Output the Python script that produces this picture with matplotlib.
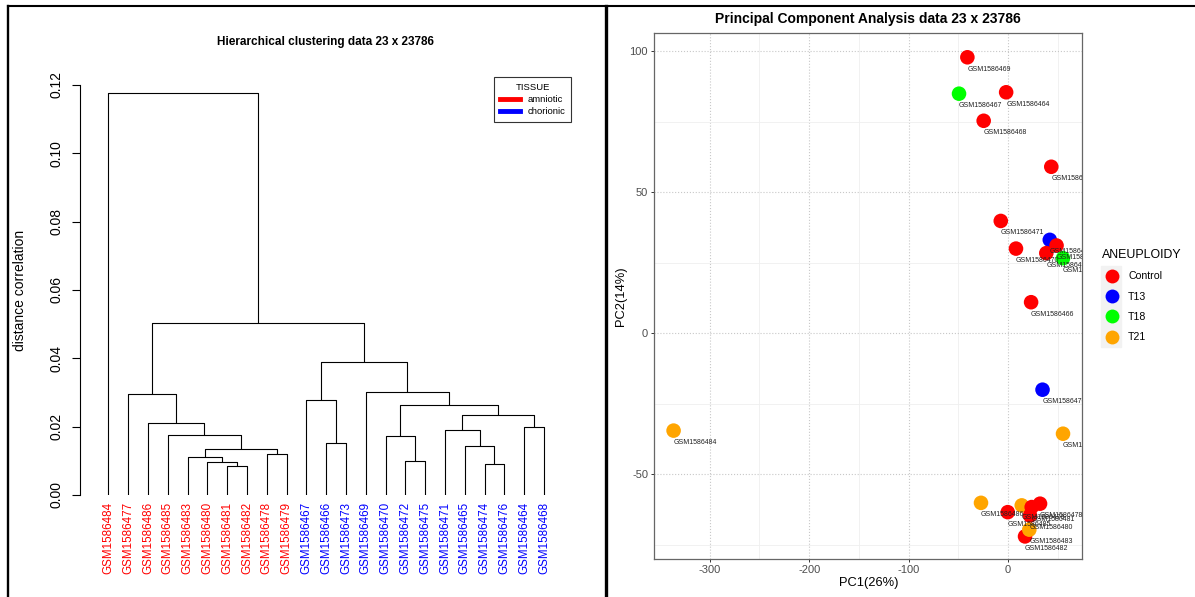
import matplotlib.pyplot as plt
from matplotlib.lines import Line2D
from matplotlib.patches import Rectangle

plt.rcParams['font.family'] = ['Liberation Sans', 'DejaVu Sans']
plt.rcParams['axes.unicode_minus'] = False

W, H = 1195, 597

# ---- dendrogram data (leaf order as drawn) ----
leaf_labels = ['GSM1586484', 'GSM1586477', 'GSM1586486', 'GSM1586485', 'GSM1586483',
               'GSM1586480', 'GSM1586481', 'GSM1586482', 'GSM1586478', 'GSM1586479',
               'GSM1586467', 'GSM1586466', 'GSM1586473', 'GSM1586469', 'GSM1586470',
               'GSM1586472', 'GSM1586475', 'GSM1586471', 'GSM1586465', 'GSM1586474',
               'GSM1586476', 'GSM1586464', 'GSM1586468']
leaf_tissue = ['amniotic'] * 10 + ['chorionic'] * 13
# merges: (left node, right node, height); new node ids start at 23
merges = [(6, 7, 0.0086), (19, 20, 0.0090), (5, 23, 0.0097), (15, 16, 0.0100),
          (4, 25, 0.0110), (8, 9, 0.0121), (27, 28, 0.0136), (18, 24, 0.0142),
          (11, 12, 0.0151), (14, 26, 0.0172), (3, 29, 0.0175), (17, 30, 0.0191),
          (21, 22, 0.0200), (2, 33, 0.0212), (34, 35, 0.0235), (32, 37, 0.0262),
          (10, 31, 0.0279), (1, 36, 0.0295), (13, 38, 0.0300), (39, 41, 0.0388),
          (40, 42, 0.0503), (0, 43, 0.1178)]
tissue_colors = {'amniotic': '#FF0000', 'chorionic': '#0000FF'}

# ---- PCA data ----
pca_samples = ['GSM1586464', 'GSM1586465', 'GSM1586466', 'GSM1586467', 'GSM1586468',
               'GSM1586469', 'GSM1586470', 'GSM1586471', 'GSM1586472', 'GSM1586473',
               'GSM1586474', 'GSM1586475', 'GSM1586476', 'GSM1586477', 'GSM1586478',
               'GSM1586479', 'GSM1586480', 'GSM1586481', 'GSM1586482', 'GSM1586483',
               'GSM1586484', 'GSM1586485', 'GSM1586486']
pc1 = [-1.9, 43.5, 23.2, -49.3, -24.5, -40.9, 8.0, -7.3, 42.0, 48.8, 38.5, 55.3,
       34.7, 55.3, 32.2, 13.8, 22.1, 23.8, 17.1, 21.4, -336.4, -0.3, -27.2]
pc2 = [85.4, 59.0, 11.0, 84.9, 75.3, 97.8, 30.0, 39.8, 33.1, 31.1, 28.4, 26.6,
       -20.0, -35.6, -60.4, -61.0, -64.6, -61.6, -72.0, -69.6, -34.5, -63.4, -60.1]
aneuploidy = ['Control', 'Control', 'Control', 'T18', 'Control', 'Control', 'Control',
              'Control', 'T13', 'Control', 'Control', 'T18', 'T13', 'T21', 'Control',
              'T21', 'Control', 'Control', 'Control', 'T21', 'T21', 'Control', 'T21']
groups = ['Control', 'T13', 'T18', 'T21']
group_colors = {'Control': '#FF0000', 'T13': '#0000FF', 'T18': '#00FF00', 'T21': '#FFA500'}


def box(l, t, r, b):
    return [l / W, 1 - b / H, (r - l) / W, (b - t) / H]


fig = plt.figure(figsize=(W / 100, H / 100), dpi=100)

# ---------------- left: dendrogram ----------------
ax1 = fig.add_axes(box(80.4, 77, 575, 495))
n = len(leaf_labels)
xpos = {i: float(i) for i in range(n)}
hpos = {i: 0.0 for i in range(n)}
for k, (a, b, h) in enumerate(merges):
    ax1.plot([xpos[a], xpos[a], xpos[b], xpos[b]], [hpos[a], h, h, hpos[b]],
             color='black', lw=0.8, solid_capstyle='butt')
    xpos[n + k] = (xpos[a] + xpos[b]) / 2
    hpos[n + k] = h

for i, lab in enumerate(leaf_labels):
    ax1.text(i, -0.002, lab, rotation=90, ha='center', va='top', fontsize=8.4,
             color=tissue_colors[leaf_tissue[i]], clip_on=False)

ax1.set_xlim(-1.41, 23.57)
ax1.set_ylim(0, 0.12234)
for s in ['top', 'right', 'bottom']:
    ax1.spines[s].set_visible(False)
ax1.spines['left'].set_bounds(0, 0.12)
ax1.spines['left'].set_linewidth(0.8)
ax1.set_xticks([])
yt = [0.0, 0.02, 0.04, 0.06, 0.08, 0.10, 0.12]
ax1.set_yticks(yt)
ax1.set_yticklabels([f'{v:.2f}' for v in yt], rotation=90, va='center', fontsize=10)
ax1.tick_params(axis='y', length=5.5, width=0.8, pad=7)
fig.text(20 / W, 1 - 290 / H, 'distance correlation', rotation=90, ha='center',
         va='center', fontsize=10)
fig.text(325 / W, 1 - 42 / H, 'Hierarchical clustering data 23 x 23786', ha='center',
         va='center', fontsize=8.5, fontweight='bold')

t_handles = [Line2D([], [], color=tissue_colors[t], lw=3.5, label=t)
             for t in ['amniotic', 'chorionic']]
leg1 = ax1.legend(handles=t_handles, title='TISSUE', fontsize=6.8, title_fontsize=6.8,
                  loc='upper right', bbox_to_anchor=(571.4 / W, 1 - 77 / H),
                  bbox_transform=fig.transFigure, fancybox=False, edgecolor='#333333',
                  framealpha=1, borderpad=0.6, labelspacing=0.34, handlelength=2.2,
                  handletextpad=0.78, borderaxespad=0)
leg1.get_frame().set_linewidth(0.8)

# ---------------- right: PCA ----------------
ax2 = fig.add_axes(box(654.3, 33.3, 1082.4, 559))
cols = [group_colors[g] for g in aneuploidy]
ax2.scatter(pc1, pc2, s=110, c=cols, edgecolors='none', zorder=3)
for x, y, lab in zip(pc1, pc2, pca_samples):
    ax2.annotate(lab, (x, y), xytext=(0, -8.6), textcoords='offset points',
                 ha='left', va='center', fontsize=5, color='#222222',
                 annotation_clip=False, clip_on=True, zorder=4)

ax2.set_xlim(-355.8, 74.8)
ax2.set_ylim(-80, 106.3)
ax2.set_xticks([-300, -200, -100, 0])
ax2.set_yticks([-50, 0, 50, 100])
ax2.set_xticks([-250, -150, -50, 50], minor=True)
ax2.set_yticks([-75, -25, 25, 75], minor=True)
ax2.grid(True, which='major', color='#c8c8c8', linestyle=':', lw=0.8, zorder=0)
ax2.grid(True, which='minor', color='#efefef', linestyle='-', lw=0.6, zorder=0)
ax2.set_axisbelow(True)
ax2.tick_params(which='major', length=2.5, width=0.7, color='#333333',
                labelcolor='#4d4d4d', labelsize=8, pad=2)
ax2.tick_params(which='minor', length=0)
for s in ax2.spines.values():
    s.set_color('#666666')
    s.set_linewidth(0.9)
ax2.set_xlabel('PC1(26%)', fontsize=9.3)
ax2.xaxis.set_label_coords(0.5, -0.035)
ax2.set_ylabel('PC2(14%)', fontsize=9.3)
ax2.yaxis.set_label_coords(-0.064, 0.5)
fig.text(868.3 / W, 1 - 19.3 / H, 'Principal Component Analysis data 23 x 23786',
         ha='center', va='center', fontsize=10, fontweight='bold')

g_handles = [Line2D([], [], marker='o', ls='', color=group_colors[g], markersize=10,
                    markeredgewidth=0, label=g) for g in groups]
leg2 = ax2.legend(handles=g_handles, title='ANEUPLOIDY', fontsize=7.6, title_fontsize=8.9,
                  loc='upper left', bbox_to_anchor=(1101.5 / W, 1 - 249 / H),
                  bbox_transform=fig.transFigure, frameon=False, borderpad=0,
                  borderaxespad=0, labelspacing=0.98, handlelength=2.0,
                  handletextpad=0.52, alignment='left')
fig.add_artist(Rectangle((1100.7 / W, 1 - 347 / H), 20.3 / W, 81 / H,
                         transform=fig.transFigure, color='#f2f2f2', zorder=-1))

# panel frames
fig.add_artist(Line2D([8 / W, 1], [1 - 6 / H, 1 - 6 / H], color='black', lw=1.5))
fig.add_artist(Line2D([8 / W, 8 / W], [0, 1 - 6 / H], color='black', lw=1.7))
fig.add_artist(Line2D([606 / W, 606 / W], [0, 1 - 6 / H], color='black', lw=2.4))

fig.savefig('out.png', dpi=100)
